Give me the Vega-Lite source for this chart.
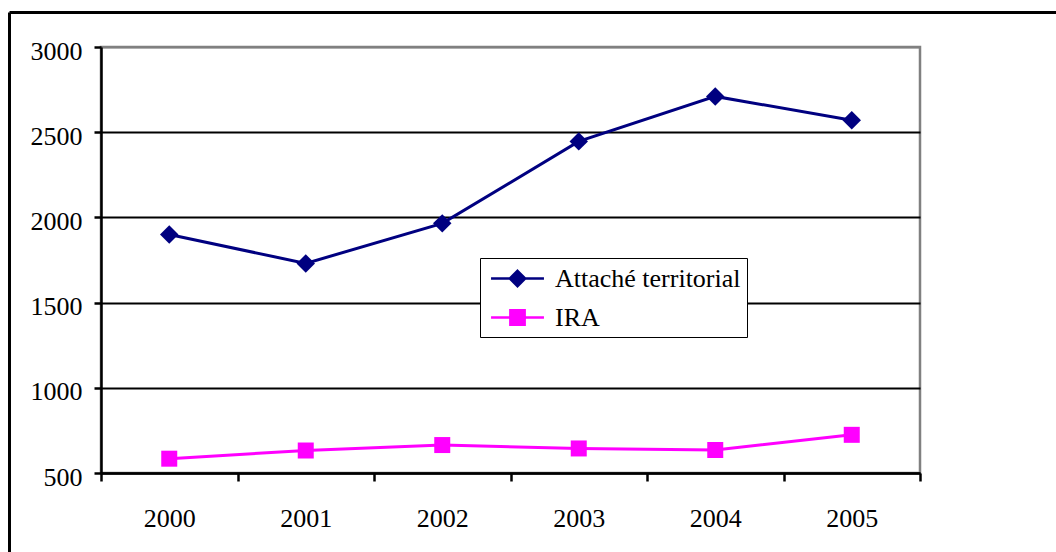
{
  "$schema": "https://vega.github.io/schema/vega-lite/v6.json",
  "width": 819,
  "height": 426,
  "autosize": {"type": "none"},
  "padding": {"left": 101, "top": 47, "right": 136, "bottom": 79},
  "background": "white",
  "config": {
    "view": {"stroke": "#808080", "strokeWidth": 2.5},
    "font": "Liberation Serif"
  },
  "layer": [
    {
      "data": {"values": [{"f": 0}, {"f": 1}]},
      "mark": {"type": "point", "opacity": 0},
      "encoding": {
        "x": {
          "field": "f", "type": "quantitative",
          "scale": {"domain": [0, 1], "range": [-92, 955], "nice": false, "zero": false},
          "axis": {"orient": "top", "offset": 35, "domainColor": "black", "domainWidth": 3, "ticks": false, "labels": false, "grid": false, "title": null}
        },
        "y": {
          "field": "f", "type": "quantitative",
          "scale": {"domain": [0, 1], "range": [505, -35], "nice": false, "zero": false},
          "axis": {"orient": "left", "offset": 92, "domainColor": "black", "domainWidth": 3, "ticks": false, "labels": false, "grid": false, "title": null}
        }
      }
    },
    {
      "data": {
        "values": [
          {"year": "2000", "series": "Attaché territorial", "value": 1900},
          {"year": "2001", "series": "Attaché territorial", "value": 1730},
          {"year": "2002", "series": "Attaché territorial", "value": 1965},
          {"year": "2003", "series": "Attaché territorial", "value": 2446},
          {"year": "2004", "series": "Attaché territorial", "value": 2710},
          {"year": "2005", "series": "Attaché territorial", "value": 2570},
          {"year": "2000", "series": "IRA", "value": 584},
          {"year": "2001", "series": "IRA", "value": 632},
          {"year": "2002", "series": "IRA", "value": 664},
          {"year": "2003", "series": "IRA", "value": 644},
          {"year": "2004", "series": "IRA", "value": 635},
          {"year": "2005", "series": "IRA", "value": 724}
        ]
      },
      "encoding": {
        "x": {
          "field": "year", "type": "ordinal", "bandPosition": 0.5,
          "scale": {"type": "band", "paddingInner": 0, "paddingOuter": 0},
          "axis": {
            "orient": "bottom", "title": null, "labelAngle": 0, "tickBand": "extent",
            "domainColor": "black", "domainWidth": 2.5, "tickColor": "black", "tickWidth": 2.5, "tickSize": 8,
            "labelFont": "Liberation Serif", "labelFontSize": 26, "labelColor": "black", "labelPadding": 24, "grid": false
          }
        },
        "y": {
          "field": "value", "type": "quantitative",
          "scale": {"domain": [500, 3000], "nice": false, "zero": false},
          "axis": {
            "orient": "left", "title": null, "values": [500, 1000, 1500, 2000, 2500, 3000], "format": "d",
            "grid": true, "gridColor": {"condition": {"test": "datum.value === 3000", "value": "#808080"}, "value": "black"}, "gridWidth": 2,
            "domainColor": "black", "domainWidth": 2.5, "tickColor": "black", "tickWidth": 2.5, "tickSize": 7,
            "labelFont": "Liberation Serif", "labelFontSize": 26, "labelColor": "black", "labelPadding": 12, "labelOffset": 4
          }
        }
      },
      "layer": [
        {
          "mark": {"type": "line", "strokeWidth": 3},
          "encoding": {
            "stroke": {
              "field": "series", "type": "nominal",
              "scale": {"domain": ["Attaché territorial", "IRA"], "range": ["#000080", "#FF00FF"]},
              "legend": {
                "title": null, "orient": "none", "legendX": 379, "legendY": 211,
                "padding": 6, "symbolOffset": 17, "labelOffset": 23, "rowPadding": 11,
                "symbolSize": 700, "symbolStrokeWidth": 2.5, "symbolOpacity": 1,
                "labelFont": "Liberation Serif", "labelFontSize": 26, "labelColor": "black", "labelLimit": 400,
                "strokeColor": "black", "fillColor": "white"
              }
            }
          }
        },
        {
          "transform": [{"filter": "datum.series === 'Attaché territorial'"}],
          "mark": {"type": "point", "shape": "diamond", "filled": true, "size": 340, "opacity": 1, "color": "#000080"}
        },
        {
          "transform": [{"filter": "datum.series === 'IRA'"}],
          "mark": {"type": "point", "shape": "square", "filled": true, "size": 256, "opacity": 1, "color": "#FF00FF"}
        },
        {
          "mark": {"type": "point", "filled": true, "opacity": 0},
          "encoding": {
            "fill": {
              "field": "series", "type": "nominal",
              "scale": {"domain": ["Attaché territorial", "IRA"], "range": ["#000080", "#FF00FF"]},
              "legend": {
                "title": null, "orient": "none", "legendX": 379, "legendY": 211,
                "padding": 6, "symbolOffset": 17, "labelOffset": 23, "rowPadding": 11,
                "symbolSize": 700, "symbolStrokeWidth": 2.5, "symbolOpacity": 1,
                "labelFont": "Liberation Serif", "labelFontSize": 26, "labelColor": "black", "labelLimit": 400,
                "strokeColor": "black", "fillColor": "white"
              }
            },
            "shape": {
              "field": "series", "type": "nominal",
              "scale": {"domain": ["Attaché territorial", "IRA"], "range": ["M-2,0L2,0M0,-0.58L0.58,0L0,0.58L-0.58,0Z", "M-2,0L2,0M-0.54,-0.54L0.54,-0.54L0.54,0.54L-0.54,0.54Z"]},
              "legend": {
                "title": null, "orient": "none", "legendX": 379, "legendY": 211,
                "padding": 6, "symbolOffset": 17, "labelOffset": 23, "rowPadding": 11,
                "symbolSize": 700, "symbolStrokeWidth": 2.5, "symbolOpacity": 1,
                "labelFont": "Liberation Serif", "labelFontSize": 26, "labelColor": "black", "labelLimit": 400,
                "strokeColor": "black", "fillColor": "white"
              }
            }
          }
        }
      ]
    }
  ],
  "resolve": {"scale": {"x": "independent", "y": "independent"}, "axis": {"x": "independent", "y": "independent"}}
}
